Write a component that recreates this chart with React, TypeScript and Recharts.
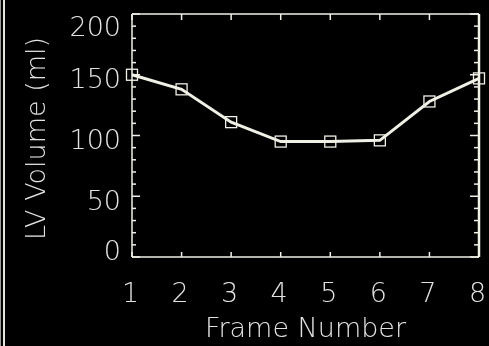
import React from 'react';
import { LineChart, Line, XAxis, YAxis, ReferenceLine } from 'recharts';

// Left-ventricular volume over the cardiac cycle
const frames = [1, 2, 3, 4, 5, 6, 7, 8];
const volumes = [150, 138, 111, 95, 95, 96, 128, 147];

const frameTicks = [1, 2, 3, 4, 5, 6, 7, 8];
const volumeMajorTicks = [0, 50, 100, 150, 200];
const volumeTicks = [0, 10, 20, 30, 40, 50, 60, 70, 80, 90, 100, 110, 120, 130, 140, 150, 160, 170, 180, 190, 200];

const xTitle = 'Frame Number';
const yTitle = 'LV Volume (ml)';

const data = frames.map((frame, i) => ({ frame, volume: volumes[i] }));

const W = 489;
const H = 346;
const PLOT_TOP = 14;
const PLOT_BOTTOM = 257;
const PLOT_LEFT = 132;
const PLOT_RIGHT = 479;
const FG = '#f1f0e6';
const TEXT = '#e4e3d9';
const FONT = '"DejaVu Sans", sans-serif';
const FONT_SIZE = 27;

const textProps = {
  fontFamily: FONT,
  fontSize: FONT_SIZE,
  fontWeight: 200,
  fill: TEXT,
  style: { filter: 'grayscale(1)' },
};

// y ticks: inward marks on both the left and right frame edges, labels on the left
const LeftTick = (props: any) => {
  const { x, y, payload } = props;
  const v = payload.value;
  const major = volumeMajorTicks.includes(v);
  const len = major ? 8 : 4;
  const rlen = major ? 9 : 5;
  const rx = x + (PLOT_RIGHT - PLOT_LEFT);
  const ly = Math.min(Math.max(y + 4, PLOT_TOP + 12), PLOT_BOTTOM - 7);
  return (
    <g>
      <line x1={x} x2={x + len} y1={y} y2={y} stroke={FG} strokeWidth={1.5} />
      <line x1={rx} x2={rx - rlen} y1={y} y2={y} stroke={FG} strokeWidth={1.5} />
      {major && (
        <text x={x - 11} y={ly} textAnchor="end" dominantBaseline="central" {...textProps}>
          {v}
        </text>
      )}
    </g>
  );
};

// x ticks: inward marks on the bottom and top frame edges, labels below
const BottomTick = (props: any) => {
  const { x, y, payload } = props;
  const ty = y - (PLOT_BOTTOM - PLOT_TOP);
  return (
    <g>
      <line x1={x} x2={x} y1={y} y2={y - 5} stroke={FG} strokeWidth={1.5} />
      <line x1={x} x2={x} y1={ty} y2={ty + 6} stroke={FG} strokeWidth={1.5} />
      <text x={x - 1.5} y={y + 35.5} textAnchor="middle" dominantBaseline="central" {...textProps}>
        {payload.value}
      </text>
    </g>
  );
};

const XTitle = (props: any) => {
  const { viewBox } = props;
  return (
    <text x={viewBox.x + viewBox.width / 2} y={viewBox.y + 80} textAnchor="middle" {...textProps}>
      {xTitle}
    </text>
  );
};

const YTitle = (props: any) => {
  const { viewBox } = props;
  const cx = 45;
  const cy = viewBox.y + viewBox.height / 2 + 3;
  return (
    <text x={cx} y={cy} textAnchor="middle" transform={`rotate(-90 ${cx} ${cy})`} {...textProps}>
      {yTitle}
    </text>
  );
};

const SquareDot = (props: any) => {
  const { cx, cy, index } = props;
  if (cx == null || cy == null) return <g key={index} />;
  const s = 11;
  return (
    <rect
      key={index}
      x={cx - s / 2}
      y={cy - s / 2}
      width={s}
      height={s}
      fill="none"
      stroke={FG}
      strokeWidth={1.3}
    />
  );
};

export default function App() {
  return (
    <div
      style={{
        position: 'fixed',
        left: 0,
        top: 0,
        width: W,
        height: H,
        background: '#000',
        overflow: 'hidden',
      }}
    >
      <div style={{ position: 'absolute', left: 0, top: 0, width: 1, height: H, background: '#9a9a94' }} />
      <div style={{ position: 'absolute', left: 3, top: 0, width: 2, height: H, background: '#e4e4dc' }} />
      <LineChart
        width={W}
        height={H}
        data={data}
        margin={{ top: PLOT_TOP, right: W - PLOT_RIGHT, bottom: 0, left: 0 }}
      >
        <XAxis
          dataKey="frame"
          type="number"
          domain={[1, 8]}
          ticks={frameTicks}
          interval={0}
          height={H - PLOT_BOTTOM}
          tickSize={0}
          tickMargin={0}
          tickLine={false}
          tick={<BottomTick />}
          axisLine={{ stroke: FG, strokeWidth: 1.5 }}
          label={<XTitle />}
        />
        <YAxis
          type="number"
          domain={[0, 200]}
          ticks={volumeTicks}
          interval={0}
          width={PLOT_LEFT}
          tickSize={0}
          tickMargin={0}
          tickLine={false}
          tick={<LeftTick />}
          axisLine={{ stroke: FG, strokeWidth: 1.5 }}
          label={<YTitle />}
        />
        {/* top and right edges of the frame */}
        <ReferenceLine y={200} stroke={FG} strokeWidth={1.5} />
        <ReferenceLine x={8} stroke={FG} strokeWidth={2.5} />
        <Line
          dataKey="volume"
          stroke={FG}
          strokeWidth={3}
          dot={<SquareDot />}
          activeDot={false}
          isAnimationActive={false}
        />
      </LineChart>
    </div>
  );
}
